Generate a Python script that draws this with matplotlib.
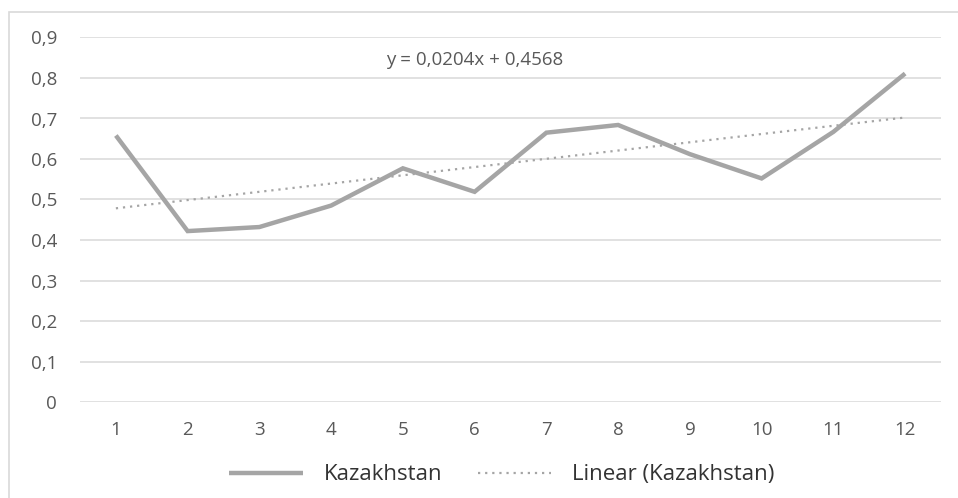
import numpy as np
import matplotlib.pyplot as plt
from matplotlib.ticker import FuncFormatter, MultipleLocator
from matplotlib.patches import Rectangle

# values
periods = [1, 2, 3, 4, 5, 6, 7, 8, 9, 10, 11, 12]
kazakhstan = [0.658, 0.422, 0.432, 0.485, 0.577, 0.519, 0.665, 0.684, 0.612, 0.552, 0.667, 0.811]
trend_label = "y = 0,0204x + 0,4568"

plt.rcParams['font.family'] = ['Open Sans', 'DejaVu Sans']

x = np.array(periods)
y = np.array(kazakhstan)
slope, intercept = np.polyfit(x, y, 1)
trend = slope * x + intercept

fig = plt.figure(figsize=(9.58, 4.98), dpi=100)
ax = fig.add_axes([80 / 958, 1 - 402 / 498, (941 - 80) / 958, (402 - 37.5) / 498])

# chart area border
fig.patches.append(Rectangle((9 / 958, -0.05), 1.1, 1 - 12 / 498 + 0.05,
                             transform=fig.transFigure, fill=False,
                             edgecolor='#D9D9D9', linewidth=1.2))

ax.plot(x, y, color='#A5A5A5', linewidth=3.2, solid_capstyle='butt',
        solid_joinstyle='miter', label='Kazakhstan', zorder=3)
ax.plot(x, trend, color='#A5A5A5', linewidth=1.6, linestyle=(0, (1, 2.2)),
        label='Linear (Kazakhstan)', zorder=3)

ax.text(6.0, 0.845, trend_label, ha='center', va='center', fontsize=13.5, color='#595959')

ax.set_xlim(0.5, 12.5)
ax.set_ylim(0, 0.9)
ax.yaxis.set_major_locator(MultipleLocator(0.1))
ax.set_xticks(periods)
ax.yaxis.set_major_formatter(FuncFormatter(
    lambda v, p: '0' if abs(v) < 1e-9 else f'{v:.1f}'.replace('.', ',')))

ax.grid(axis='y', color='#D9D9D9', linewidth=1.1)
ax.set_axisbelow(True)
for s in ax.spines.values():
    s.set_visible(False)
ax.tick_params(axis='both', length=0, labelsize=13.5, labelcolor='#595959')
ax.tick_params(axis='y', pad=16.5)
ax.tick_params(axis='x', pad=14)

leg = ax.legend(loc='center', bbox_to_anchor=(0.49, -0.2), ncol=2, frameon=False,
                fontsize=16, handlelength=3.3, columnspacing=1.6, handletextpad=0.95,
                borderaxespad=0, borderpad=0)
for t in leg.get_texts():
    t.set_color('#333333')

fig.savefig('out.png', dpi=100)
